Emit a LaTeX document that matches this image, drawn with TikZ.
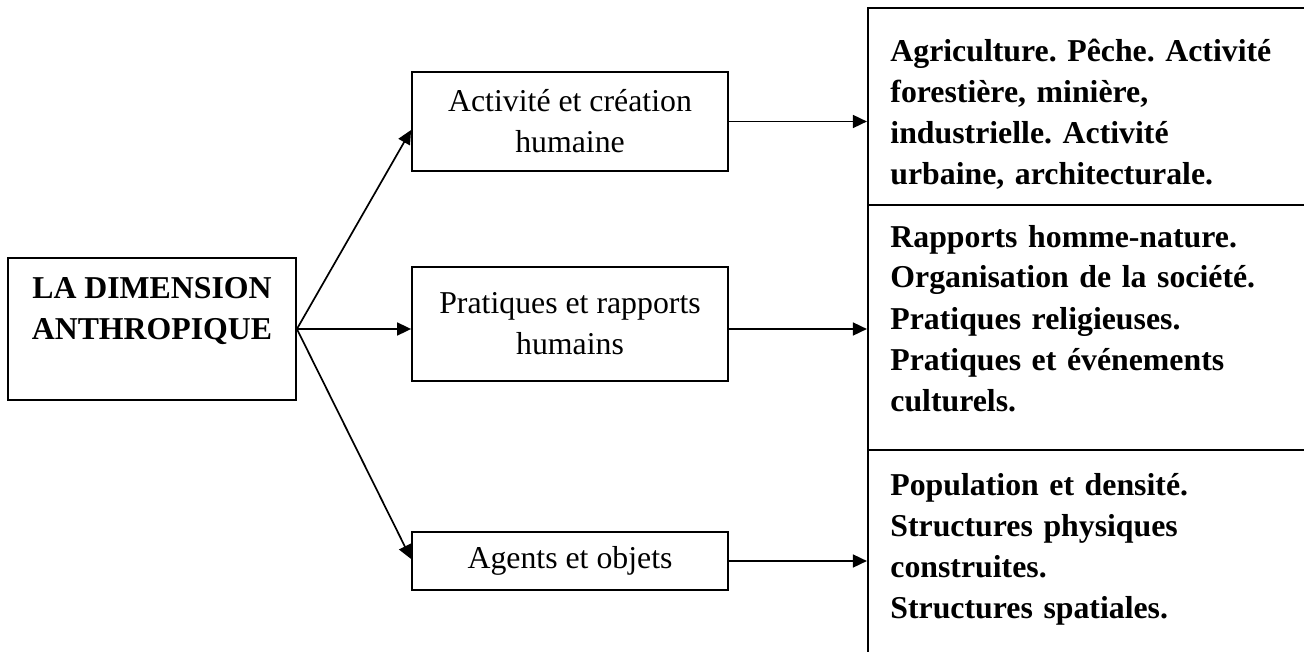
\documentclass[tikz,border=0pt]{standalone}
\usepackage{fontspec}
\setmainfont{Liberation Serif}
\usetikzlibrary{arrows.meta}
\frenchspacing
\begin{document}
\begin{tikzpicture}[x=0.5pt,y=-0.5pt,
  txt/.style={font=\fontsize{15.9pt}{20.5pt}\selectfont},
  box/.style={draw, line width=0.9pt, inner sep=0pt, align=center, txt},
  cell/.style={draw, line width=1.1pt, inner sep=0pt},
  celltext/.style={anchor=base west, inner sep=0pt, text width=215pt, align=left,
    font=\fontsize{15.9pt}{20.5pt}\selectfont\bfseries},
  link/.style={line width=0.85pt, -{Triangle[length=7pt,width=6.5pt]}}]
\useasboundingbox (0,0) rectangle (1304,652);
\clip (0,0) rectangle (1304,652);

% root box
\node[box, minimum width=144pt, minimum height=71pt, font=\fontsize{15.9pt}{20.5pt}\selectfont\bfseries]
  (main) at (152,329) {LA DIMENSION\\ANTHROPIQUE\\\mbox{}};

% middle column
\node[box, minimum width=158pt, minimum height=49.5pt] (b1) at (570,121.5) {Activité et création\\humaine};
\node[box, minimum width=158pt, minimum height=57pt] (b2) at (570,324) {Pratiques et rapports\\humains};
\node[box, minimum width=158pt, minimum height=29pt] (b3) at (570,561) {Agents et objets};

% right column (runs past the page edge)
\node[cell, minimum width=231pt, minimum height=98.5pt] (c1) at (1099,106.5) {};
\node[cell, minimum width=231pt, minimum height=122.5pt] (c2) at (1099,327.5) {};
\node[cell, minimum width=231pt, minimum height=115pt] (c3) at (1099,565) {};

\node[celltext] (t1) at (890,62) {Agriculture. Pêche. Activité\\forestière, minière,\\industrielle. Activité\\urbaine, architecturale.};
\node[celltext] (t2) at (890,247) {Rapports homme-nature.\\Organisation de la société.\\Pratiques religieuses.\\Pratiques et événements\\culturels.};
\node[celltext] (t3) at (890,495) {Population et densité.\\Structures physiques\\construites.\\Structures spatiales.};

% connectors
\draw[link] (main.east) -- ([yshift=-4.25pt]b1.west);
\draw[link] (main.east) -- (main.east -| b2.west);
\draw[link] (main.east) -- ([yshift=1pt]b3.west);
\draw[link] (b1.east) -- (b1.east -| c1.west);
\draw[link] (main.east -| b2.east) -- (main.east -| c2.west);
\draw[link] (b3.east) -- (b3.east -| c3.west);
\end{tikzpicture}
\end{document}
